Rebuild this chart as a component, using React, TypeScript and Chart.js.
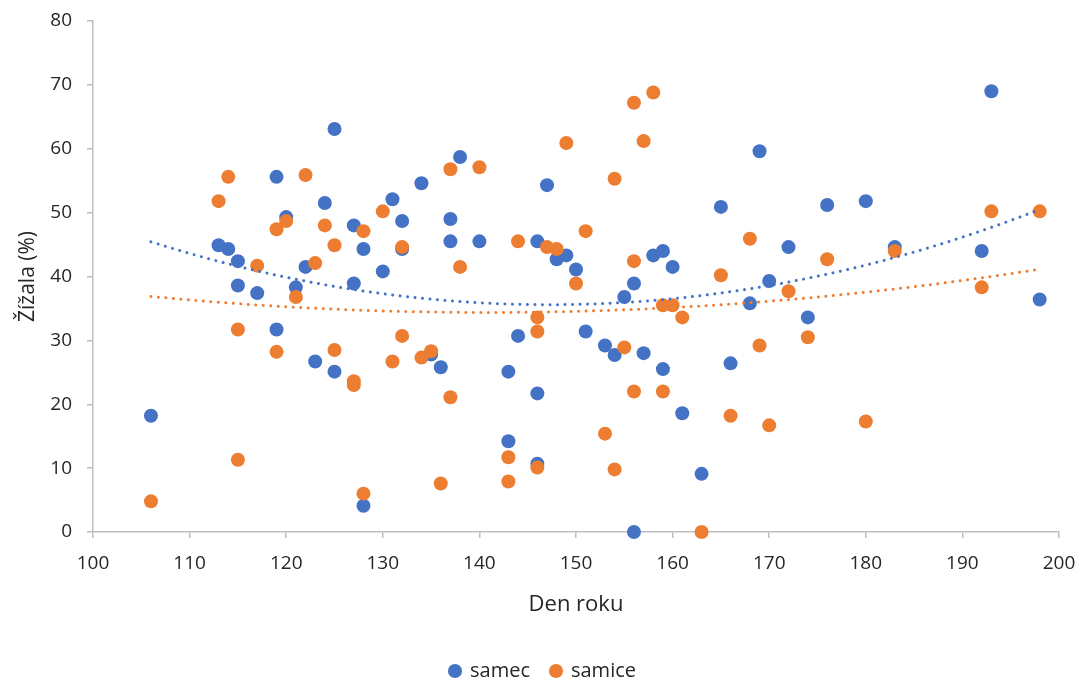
import React, { useEffect, useRef } from "react";
import { Chart, registerables } from "chart.js";

Chart.register(...registerables);

// Den roku (x) and Žížala (%) (y) values
const samecDays = [106, 113, 114, 115, 115, 117, 119, 119, 120, 121, 122, 123, 124, 125, 125, 127, 127, 128, 128, 130, 131, 132, 132, 134, 135, 136, 137, 137, 138, 140, 143, 143, 144, 146, 146, 146, 147, 148, 149, 150, 151, 153, 154, 155, 156, 156, 157, 158, 159, 159, 160, 161, 163, 165, 166, 168, 169, 170, 172, 174, 176, 180, 183, 192, 193, 198];
const samecValues = [18.2, 44.9, 44.3, 42.4, 38.6, 37.4, 55.6, 31.7, 49.3, 38.3, 41.5, 26.7, 51.5, 63.1, 25.1, 48.0, 38.9, 44.3, 4.1, 40.8, 52.1, 48.7, 44.3, 54.6, 27.8, 25.8, 49.0, 45.5, 58.7, 45.5, 25.1, 14.2, 30.7, 45.5, 21.7, 10.7, 54.3, 42.7, 43.3, 41.1, 31.4, 29.2, 27.7, 36.8, 38.9, 0, 28.0, 43.3, 44.0, 25.5, 41.5, 18.6, 9.1, 50.9, 26.4, 35.8, 59.6, 39.3, 44.6, 33.6, 51.2, 51.8, 44.6, 44.0, 69.0, 36.4];

const samiceDays = [106, 113, 114, 115, 115, 117, 119, 119, 120, 121, 122, 123, 124, 125, 125, 127, 127, 128, 128, 130, 131, 132, 132, 134, 135, 136, 137, 137, 138, 140, 143, 143, 144, 146, 146, 146, 147, 148, 149, 150, 151, 153, 154, 154, 155, 156, 156, 156, 157, 158, 159, 159, 160, 161, 163, 165, 166, 168, 169, 170, 172, 174, 176, 180, 183, 192, 193, 198];
const samiceValues = [4.8, 51.8, 55.6, 31.7, 11.3, 41.7, 47.4, 28.2, 48.7, 36.8, 55.9, 42.1, 48.0, 44.9, 28.5, 23.6, 23.0, 47.1, 6.0, 50.2, 26.7, 44.6, 30.7, 27.3, 28.3, 7.6, 56.8, 21.1, 41.5, 57.1, 11.7, 7.9, 45.5, 33.6, 31.4, 10.1, 44.6, 44.3, 60.9, 38.9, 47.1, 15.4, 55.3, 9.8, 28.9, 67.2, 42.4, 22.0, 61.2, 68.8, 35.5, 22.0, 35.5, 33.6, 0, 40.2, 18.2, 45.9, 29.2, 16.7, 37.7, 30.5, 42.7, 17.3, 44.0, 38.3, 50.2, 50.2];

const seriesNames = ["samec", "samice"];
const xTitle = "Den roku";
const yTitle = "Žížala (%)";
const xMin = 100, xMax = 200, xStep = 10;
const yMin = 0, yMax = 80, yStep = 10;

const BLUE = "#4472C4";
const ORANGE = "#ED7D31";
const AXIS = "#bfbfbf";
const TEXT = "#262626";
const FONT = "'Open Sans', sans-serif";

// Excel-style polynomial (order 2) trendline: least squares fit of the data
function quadFit(xs: number[], ys: number[]) {
  const c = 150;
  const s = [0, 0, 0, 0, 0];
  const t = [0, 0, 0];
  for (let i = 0; i < xs.length; i++) {
    const x = xs[i] - c;
    let p = 1;
    for (let k = 0; k < 5; k++) { s[k] += p; if (k < 3) t[k] += p * ys[i]; p *= x; }
  }
  const A = [
    [s[0], s[1], s[2], t[0]],
    [s[1], s[2], s[3], t[1]],
    [s[2], s[3], s[4], t[2]],
  ];
  for (let i = 0; i < 3; i++) {
    for (let j = i + 1; j < 3; j++) {
      const f = A[j][i] / A[i][i];
      for (let k = i; k < 4; k++) A[j][k] -= f * A[i][k];
    }
  }
  const b = [0, 0, 0];
  for (let i = 2; i >= 0; i--) {
    let v = A[i][3];
    for (let k = i + 1; k < 3; k++) v -= A[i][k] * b[k];
    b[i] = v / A[i][i];
  }
  const lo = Math.min(...xs), hi = Math.max(...xs);
  const pts: { x: number; y: number }[] = [];
  for (let x = lo; x <= hi; x += 1) {
    const d = x - c;
    pts.push({ x, y: b[0] + b[1] * d + b[2] * d * d });
  }
  return pts;
}

const toPoints = (xs: number[], ys: number[]) => xs.map((x, i) => ({ x, y: ys[i] }));

export default function App() {
  const ref = useRef<HTMLCanvasElement | null>(null);

  useEffect(() => {
    if (!ref.current) return;
    const chart = new Chart(ref.current, {
      type: "scatter",
      data: {
        datasets: [
          {
            label: seriesNames[0],
            data: toPoints(samecDays, samecValues),
            backgroundColor: BLUE,
            borderColor: BLUE,
            borderWidth: 0,
            pointRadius: 7,
            pointHoverRadius: 7,
            order: 3,
            clip: false,
          },
          {
            label: seriesNames[1],
            data: toPoints(samiceDays, samiceValues),
            backgroundColor: ORANGE,
            borderColor: ORANGE,
            borderWidth: 0,
            pointRadius: 7,
            pointHoverRadius: 7,
            order: 2,
            clip: false,
          },
          {
            type: "line",
            label: "trend samec",
            data: quadFit(samecDays, samecValues),
            borderColor: BLUE,
            backgroundColor: BLUE,
            borderWidth: 3,
            borderDash: [0.01, 7.5],
            borderCapStyle: "round",
            pointRadius: 0,
            fill: false,
            tension: 0,
            order: 1,
          },
          {
            type: "line",
            label: "trend samice",
            data: quadFit(samiceDays, samiceValues),
            borderColor: ORANGE,
            backgroundColor: ORANGE,
            borderWidth: 3,
            borderDash: [0.01, 7.5],
            borderCapStyle: "round",
            pointRadius: 0,
            fill: false,
            tension: 0,
            order: 0,
          },
        ] as any,
      },
      options: {
        animation: false,
        responsive: false,
        maintainAspectRatio: false,
        layout: { padding: { left: 27, right: 22, top: 21, bottom: -7 } },
        plugins: {
          tooltip: { enabled: false },
          legend: {
            position: "bottom",
            labels: {
              usePointStyle: true,
              pointStyle: "circle",
              boxWidth: 10,
              boxHeight: 10,
              padding: 21,
              color: TEXT,
              font: { family: FONT, size: 20 },
              filter: (item: any) => item.datasetIndex < 2,
              sort: (a: any, b: any) => a.datasetIndex - b.datasetIndex,
            },
          },
        },
        scales: {
          x: {
            type: "linear",
            min: xMin,
            max: xMax,
            afterFit: (s: any) => { s.height = 108; s.paddingLeft = 0; s.paddingRight = 0; },
            ticks: { stepSize: xStep, color: TEXT, font: { family: FONT, size: 19 }, padding: 14 },
            grid: { drawOnChartArea: false, drawTicks: true, tickLength: 6, color: AXIS, lineWidth: 1.5 },
            border: { display: true, color: AXIS, width: 1.5 },
            title: { display: true, text: xTitle, color: TEXT, font: { family: FONT, size: 22 }, padding: { top: 0, bottom: 22 } },
          },
          y: {
            type: "linear",
            min: yMin,
            max: yMax,
            afterFit: (s: any) => { s.width = 66; s.paddingTop = 0; s.paddingBottom = 0; },
            ticks: { stepSize: yStep, color: TEXT, font: { family: FONT, size: 19 }, padding: 15 },
            grid: { drawOnChartArea: false, drawTicks: true, tickLength: 6, color: AXIS, lineWidth: 1.5 },
            border: { display: true, color: AXIS, width: 1.5 },
            title: { display: true, text: yTitle, color: TEXT, font: { family: FONT, size: 21 }, padding: { top: -12, bottom: 0 } },
          },
        },
      } as any,
    });
    return () => chart.destroy();
  }, []);

  return (
    <div style={{ position: "fixed", left: 0, top: 0, width: 1081, height: 684, background: "#fff" }}>
      <canvas ref={ref} width={1081} height={684} style={{ width: 1081, height: 684, display: "block" }} />
    </div>
  );
}
